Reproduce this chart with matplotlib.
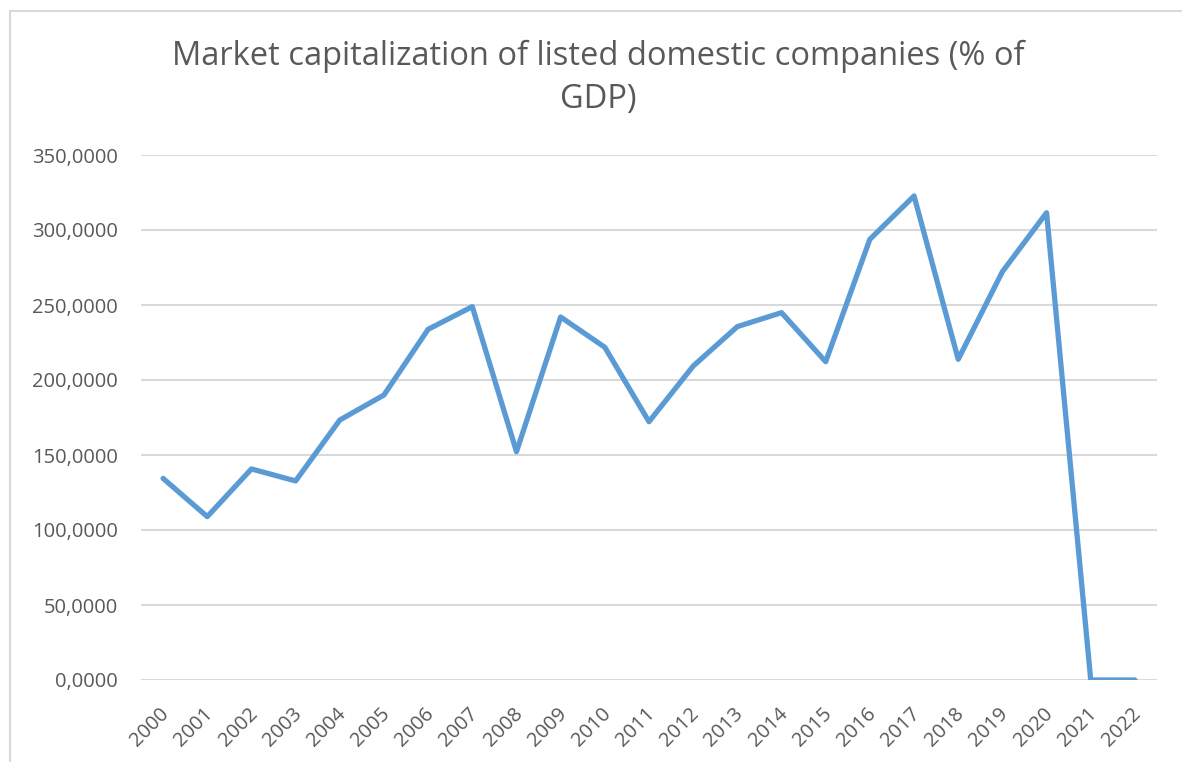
#!/usr/bin/env python

import matplotlib as mpl
mpl.use('Agg')
import matplotlib.pyplot as plt
from matplotlib.lines import Line2D
from matplotlib.ticker import FuncFormatter

# data (% of GDP)
years = [str(y) for y in range(2000, 2023)]
market_cap = [134.4, 108.9, 140.7, 132.7, 173.3, 190.0, 233.8, 248.9, 152.2,
              242.0, 221.8, 172.2, 209.3, 235.6, 244.9, 212.2, 293.8, 322.7,
              213.8, 272.2, 311.5, 0.0, 0.0]
yticks = [0, 50, 100, 150, 200, 250, 300, 350]

text_col = '#595959'
grid_col = '#D9D9D9'
line_col = '#5B9BD5'

mpl.rcParams.update({'font.family': ['Open Sans', 'DejaVu Sans']})

fig = plt.figure(figsize=(11.82, 7.62), dpi=100, facecolor='w')
ax = fig.add_axes([141 / 1182, 1 - 680 / 762, (1157 - 141) / 1182, (680 - 155) / 762])

x = list(range(len(years)))
ax.plot(x, market_cap, color=line_col, lw=3.8, solid_joinstyle='round',
        solid_capstyle='round', zorder=3)

ax.set_xlim(-0.5, len(years) - 0.5)
ax.set_ylim(0, 350)
ax.set_yticks(yticks)
ax.yaxis.set_major_formatter(FuncFormatter(lambda v, p: f'{v:.4f}'.replace('.', ',')))
ax.grid(axis='y', color=grid_col, lw=1.5, zorder=0)
ax.set_axisbelow(True)
for s in ax.spines.values():
    s.set_visible(False)
ax.tick_params(axis='y', length=0, pad=16.5, labelsize=14.5, labelcolor=text_col)
ax.tick_params(axis='x', length=0, pad=17, labelsize=14.5, labelcolor=text_col)
ax.set_xticks(x)
ax.set_xticklabels(years, rotation=45, ha='right', va='top', rotation_mode='anchor')
for lab in ax.get_xticklabels():
    lab.set_transform(lab.get_transform() + mpl.transforms.ScaledTranslation(-0.04, 0, fig.dpi_scale_trans))

fig.text(598 / 1182, 1 - 78 / 762, 'Market capitalization of listed domestic companies (% of\nGDP)',
         ha='center', va='center', fontsize=23.5, color=text_col, linespacing=1.4)

# chart border (only top and left edges visible in the reference)
fig.add_artist(Line2D([10 / 1182, 10 / 1182], [0, 1 - 11 / 762], color=grid_col, lw=1.5, transform=fig.transFigure))
fig.add_artist(Line2D([10 / 1182, 1], [1 - 11 / 762, 1 - 11 / 762], color=grid_col, lw=1.5, transform=fig.transFigure))

fig.savefig('out.png', dpi=100, facecolor='w')
